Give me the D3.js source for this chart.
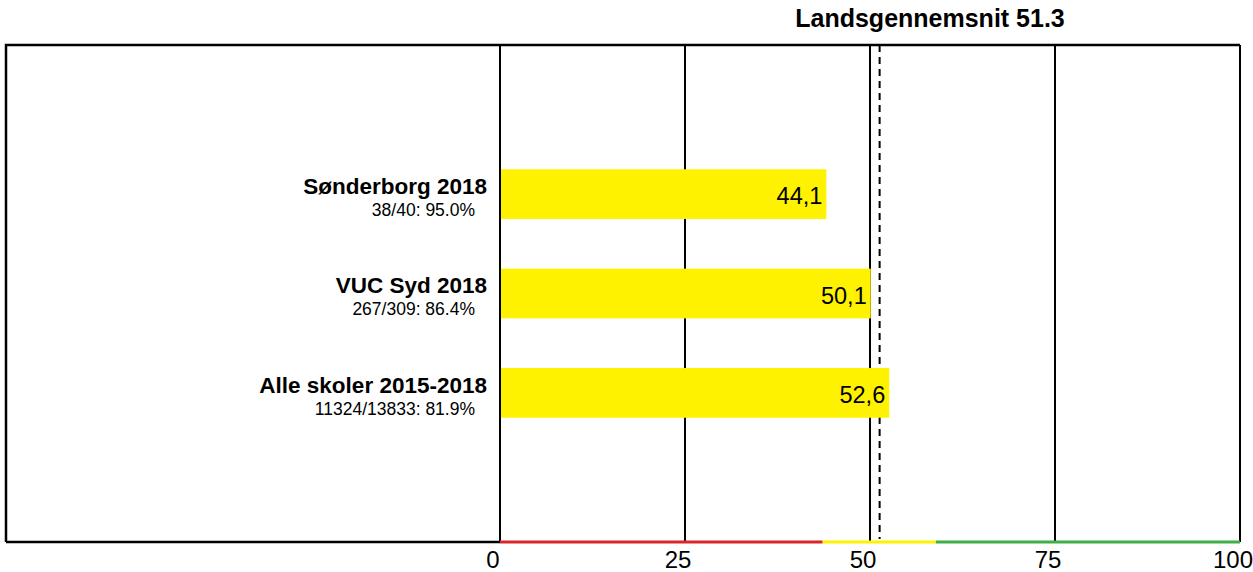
<!DOCTYPE html>
<html><head><meta charset="utf-8">
<script src="https://cdn.jsdelivr.net/npm/d3@7"></script>
<style>html,body{margin:0;padding:0;background:#fff;}svg{display:block;font-family:"Liberation Sans",Arial,sans-serif;}</style>
</head><body>
<svg id="c" width="1253" height="572"></svg>
<script>
const categories = ["Sønderborg 2018", "VUC Syd 2018", "Alle skoler 2015-2018"];
const subLabels = ["38/40: 95.0%", "267/309: 86.4%", "11324/13833: 81.9%"];
const values = [44.1, 50.1, 52.6];
const valueLabels = ["44,1", "50,1", "52,6"];
const average = 51.3;
const titleText = "Landsgennemsnit 51.3";
const tickValues = [0, 25, 50, 75, 100];
const bandStarts = [0, 43.6, 58.9];
const bandEnds = [43.6, 58.9, 100];
const bandColors = ["#d9262a", "#fff200", "#3fae49"];

const svg = d3.select("#c");
const frameLeft = 6, plotTop = 45, plotBottom = 542;
const x = d3.scaleLinear().domain([0, 100]).range([500, 1240]);
const y = d3.scaleBand().domain(categories).range([plotTop, plotBottom]).paddingInner(0.5).paddingOuter(1.25);

// gridlines
svg.selectAll("line.grid").data(tickValues).join("line")
  .attr("x1", d => x(d)).attr("x2", d => x(d))
  .attr("y1", plotTop).attr("y2", plotBottom)
  .attr("stroke", "#000").attr("stroke-width", 2);

// average dashed line
svg.append("line")
  .attr("x1", x(average)).attr("x2", x(average))
  .attr("y1", plotTop).attr("y2", plotBottom - 3)
  .attr("stroke", "#000").attr("stroke-width", 2)
  .attr("stroke-dasharray", "7,5");

// bars (drawn over the grid)
svg.selectAll("rect.bar").data(values).join("rect")
  .attr("x", x(0) + 1).attr("y", (d, i) => y(categories[i]))
  .attr("width", d => x(d) - x(0) - 1).attr("height", y.bandwidth())
  .attr("fill", "#fff200");

// frame
svg.append("path")
  .attr("d", `M${frameLeft},${plotBottom}V${plotTop}H${x(100)}`)
  .attr("fill", "none").attr("stroke", "#000").attr("stroke-width", 2.5);
svg.append("line").attr("x1", frameLeft).attr("x2", x(0)).attr("y1", plotBottom).attr("y2", plotBottom)
  .attr("stroke", "#000").attr("stroke-width", 2.5);

// colour bands on axis
svg.selectAll("line.band").data(bandColors).join("line")
  .attr("x1", (d, i) => x(bandStarts[i])).attr("x2", (d, i) => x(bandEnds[i]))
  .attr("y1", plotBottom).attr("y2", plotBottom)
  .attr("stroke", d => d).attr("stroke-width", 3);

// value labels
svg.selectAll("text.val").data(values).join("text")
  .attr("x", d => x(d) - 4).attr("y", (d, i) => y(categories[i]) + y.bandwidth() / 2 + 10)
  .attr("text-anchor", "end").attr("font-size", 23.5).attr("fill", "#000")
  .text((d, i) => valueLabels[i]);

// category labels
svg.selectAll("text.cat").data(categories).join("text")
  .attr("x", 487).attr("y", d => y(d) + 24.5)
  .attr("text-anchor", "end").attr("font-size", 22.5).attr("font-weight", "bold")
  .text(d => d);
svg.selectAll("text.sub").data(subLabels).join("text")
  .attr("x", 475).attr("y", (d, i) => y(categories[i]) + 46.5)
  .attr("text-anchor", "end").attr("font-size", 17.5)
  .text(d => d);

// axis
const axis = svg.append("g").attr("transform", `translate(0,${plotBottom})`)
  .call(d3.axisBottom(x).tickValues(tickValues).tickSize(0).tickPadding(0));
axis.select(".domain").remove();
axis.selectAll("text").attr("font-size", 24).attr("font-family", "Liberation Sans, Arial, sans-serif")
  .attr("fill", "#000").attr("dy", 0).attr("y", 26).attr("dx", -7.5);

// title
svg.append("text").attr("x", 930).attr("y", 27).attr("text-anchor", "middle")
  .attr("font-size", 25).attr("font-weight", "bold").text(titleText);
</script>
</body></html>
